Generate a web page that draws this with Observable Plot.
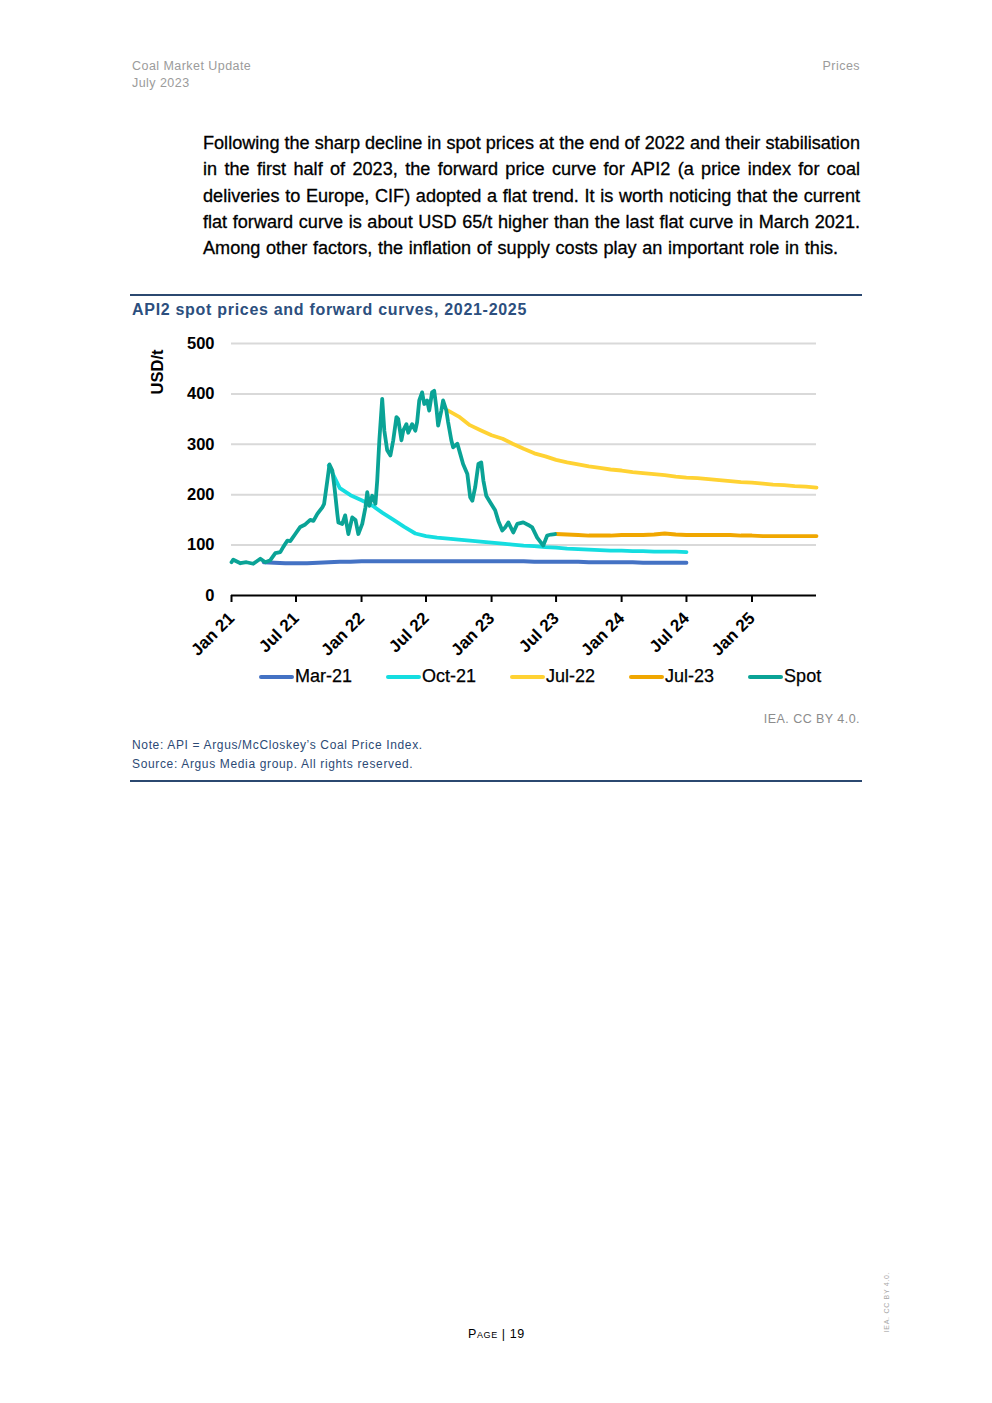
<!DOCTYPE html>
<html><head><meta charset="utf-8">
<script src="https://cdn.jsdelivr.net/npm/d3@7"></script>
<script src="https://cdn.jsdelivr.net/npm/@observablehq/plot@0.6"></script>
<style>
body{margin:0;width:992px;height:1403px;position:relative;background:#fff;font-family:"Liberation Sans",Arial,sans-serif;overflow:hidden;}
.abs{position:absolute;}
#hdrL{left:132px;top:58px;font-size:12.5px;line-height:17px;color:#9b9b9b;letter-spacing:0.45px;}
#hdrR{right:132px;top:58px;font-size:12.5px;line-height:17px;color:#9b9b9b;letter-spacing:0.45px;}
#para{left:203px;top:130px;width:657px;font-size:17.5px;line-height:26.3px;color:#000;-webkit-text-stroke:0.3px #000;}
#para .pl{white-space:nowrap;transform-origin:0 0;}
.rule{left:130px;width:732px;height:2px;background:#2b4870;}
#title{left:132px;top:300px;font-size:16px;font-weight:bold;color:#2c4f7e;letter-spacing:0.7px;line-height:19px;}
#ylab{left:157px;top:372px;transform:translate(-50%,-50%) rotate(-90deg);font-size:16.5px;font-weight:bold;color:#000;white-space:nowrap;}
#chart{left:130px;top:325px;}
#legend{left:259px;top:666px;display:flex;gap:34px;align-items:center;font-size:18px;color:#000;-webkit-text-stroke:0.25px #000;}
.item{display:flex;align-items:center;}
.sw{width:35px;height:4px;border-radius:2px;margin-right:1px;}
#credit{right:132px;top:712px;font-size:12.5px;color:#8c8c8c;letter-spacing:0.45px;}
#notes{left:132px;top:736px;font-size:12px;line-height:19px;color:#2c4a75;letter-spacing:0.65px;}
#page{left:468px;top:1327px;font-size:12.5px;color:#000;font-variant:small-caps;letter-spacing:0.6px;}
#vert{left:886px;top:1302px;transform:translate(-50%,-50%) rotate(-90deg);font-size:7px;color:#a8a8a8;white-space:nowrap;letter-spacing:0.7px;}
</style>
</head>
<body>
<div id="hdrL" class="abs">Coal Market Update<br>July 2023</div>
<div id="hdrR" class="abs">Prices</div>
<div id="para" class="abs"></div>
<div class="abs rule" style="top:294px"></div>
<div id="title" class="abs">API2 spot prices and forward curves, 2021-2025</div>
<div id="ylab" class="abs">USD/t</div>
<div id="chart" class="abs"></div>
<div id="legend" class="abs"></div>
<div id="credit" class="abs">IEA. CC BY 4.0.</div>
<div id="notes" class="abs">Note: API = Argus/McCloskey’s Coal Price Index.<br>Source: Argus Media group. All rights reserved.</div>
<div class="abs rule" style="top:780px"></div>
<div id="page" class="abs">Page | 19</div>
<div id="vert" class="abs">IEA. CC BY 4.0.</div>
<script>
// ---- text ----
const paraLines = [
  "Following the sharp decline in spot prices at the end of 2022 and their stabilisation",
  "in the first half of 2023, the forward price curve for API2 (a price index for coal",
  "deliveries to Europe, CIF) adopted a flat trend. It is worth noticing that the current",
  "flat forward curve is about USD 65/t higher than the last flat curve in March 2021.",
  "Among other factors, the inflation of supply costs play an important role in this."
];

// ---- data ----
const seriesNames = ["Mar-21", "Oct-21", "Jul-22", "Jul-23", "Spot"];
const seriesColors = ["#4472c4", "#15dde0", "#ffd233", "#f0a700", "#0aa396"];

const mar21Start = "2021-04-01";
const mar21Values = [66,65,64,64,64,65,66,67,67,68, 68,68,68,68,68,68,68,68,68,68,68,68,68,68,68, 67,67,67,67,67,66,66,66,66,66,65,65,65,65,65];

const oct21Start = "2021-10-01";
const oct21Values = [258,213,199,189,178,164,150,136,123,118,115,113,111,109,107,105,103,101,99,98,96,95,93,92,91,90,89,89,88,88,87,87,87,86];

const jul22Start = "2022-09-01";
const jul22Values = [367,355,338,328,318,311,301,291,282,276,269,264,260,256,253,250,248,245,243,241,239,236,234,233,231,229,227,225,224,222,220,219,217,216,214];

const jul23Start = "2023-07-01";
const jul23Values = [122,121,120,119,119,119,120,120,120,121,123,121,120,120,120,120,120,119,119,118,118,118,118,118,118];

const spotDates = ["2021-01-01","2021-01-06","2021-01-26","2021-02-12","2021-03-03","2021-03-23","2021-04-06","2021-04-20","2021-05-04","2021-05-18","2021-05-26","2021-06-07","2021-06-15","2021-06-29","2021-07-13","2021-07-27","2021-08-10","2021-08-19","2021-08-30","2021-09-13","2021-09-18","2021-09-27","2021-10-03","2021-10-11","2021-10-17","2021-10-25","2021-10-28","2021-11-08","2021-11-16","2021-11-25","2021-12-06","2021-12-15","2021-12-23","2022-01-03","2022-01-12","2022-01-17","2022-01-23","2022-01-31","2022-02-09","2022-02-14","2022-02-20","2022-02-28","2022-03-06","2022-03-14","2022-03-23","2022-03-31","2022-04-09","2022-04-14","2022-04-23","2022-04-28","2022-05-07","2022-05-12","2022-05-23","2022-06-01","2022-06-06","2022-06-12","2022-06-20","2022-06-26","2022-07-04","2022-07-10","2022-07-18","2022-07-24","2022-07-30","2022-08-04","2022-08-13","2022-08-18","2022-08-27","2022-09-01","2022-09-10","2022-09-15","2022-09-27","2022-10-05","2022-10-13","2022-10-25","2022-11-02","2022-11-08","2022-11-16","2022-11-25","2022-12-03","2022-12-09","2022-12-17","2022-12-28","2023-01-11","2023-01-20","2023-01-31","2023-02-08","2023-02-17","2023-03-03","2023-03-14","2023-03-31","2023-04-14","2023-04-25","2023-05-09","2023-05-26","2023-06-06","2023-06-17","2023-06-28"];
const spotValues = [66,71,64,66,63,73,66,70,84,86,96,109,108,122,136,141,150,148,162,175,182,228,260,248,215,162,145,142,159,122,155,150,122,142,175,205,178,198,182,228,308,390,327,288,278,308,354,350,308,327,340,323,340,327,344,387,403,380,387,367,403,406,373,337,367,387,367,344,308,294,301,281,261,241,195,188,215,261,264,228,198,185,169,148,129,135,145,125,142,145,140,135,115,99,119,121,122];

const yTicks = [0, 100, 200, 300, 400, 500];
const xStart = "2021-01-01", xEnd = "2025-07-01", xTickEnd = "2025-02-01";

// ---- paragraph: condensed justified lines ----
const para = document.getElementById("para");
const lineDivs = paraLines.map(t => { const d = document.createElement("div"); d.className = "pl"; d.textContent = t; d.style.display = "inline-block"; para.appendChild(d); para.appendChild(document.createElement("br")); return d; });
const widths = lineDivs.map(d => d.getBoundingClientRect().width);
const s = 657 / Math.max(...widths.slice(0, 4));
const lastW = 635;
para.innerHTML = "";
paraLines.forEach((t, i) => {
  const last = i === paraLines.length - 1;
  const d = document.createElement("div");
  d.className = "pl";
  d.textContent = t;
  d.style.width = ((last ? lastW : 657) / s) + "px";
  d.style.whiteSpace = "normal";
  d.style.textAlign = "justify";
  d.style.textAlignLast = "justify";
  d.style.transform = `scaleX(${s})`;
  para.appendChild(d);
});

// ---- build ----
const monthly = (start, values) => values.map((v, i) => ({date: d3.utcMonth.offset(new Date(start), i), value: v}));
const series = [
  monthly(mar21Start, mar21Values),
  monthly(oct21Start, oct21Values),
  monthly(jul22Start, jul22Values),
  monthly(jul23Start, jul23Values),
  spotDates.map((d, i) => ({date: new Date(d), value: spotValues[i]}))
];
const xTicks = d3.utcMonth.every(6).range(new Date(xStart), new Date(xTickEnd));
const fmt = d3.utcFormat("%b %y");

const chart = Plot.plot({
  width: 700, height: 340,
  marginLeft: 101, marginRight: 14, marginTop: 18, marginBottom: 70,
  x: {type: "utc", domain: [new Date(xStart), new Date(xEnd)]},
  y: {domain: [0, 500]},
  style: {fontFamily: "'Liberation Sans', Arial, sans-serif", fontSize: "16.5px", fontWeight: "bold", color: "#000", background: "transparent", overflow: "visible"},
  marks: [
    Plot.gridY(yTicks.filter(d => d > 0), {stroke: "#d9d9d9", strokeOpacity: 1, strokeWidth: 2}),
    Plot.axisY(yTicks, {tickSize: 0, tickPadding: 17, label: null}),
    Plot.axisX(xTicks, {tickFormat: fmt, tickRotate: -45, tickSize: 7, tickPadding: 13, stroke: "#000", strokeWidth: 2, label: null, fontSize: 17}),
    Plot.ruleY([0], {stroke: "#000", strokeWidth: 2}),
    ...series.map((s, i) => Plot.line(s, {x: "date", y: "value", stroke: seriesColors[i], strokeWidth: 3.8, strokeLinejoin: "round", strokeLinecap: "round"}))
  ]
});
document.getElementById("chart").appendChild(chart);

const legend = d3.select("#legend");
seriesNames.forEach((n, i) => {
  const it = legend.append("div").attr("class", "item");
  it.append("div").attr("class", "sw").style("background", seriesColors[i]);
  it.append("span").text(n);
});
</script>
</body></html>
